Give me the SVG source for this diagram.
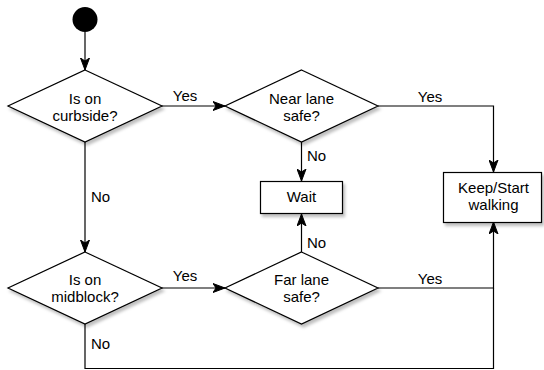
<svg xmlns="http://www.w3.org/2000/svg" width="544" height="370" viewBox="0 0 544 370">
<defs>
<filter id="sh" x="-10%" y="-10%" width="130%" height="140%">
<feDropShadow dx="2" dy="3" stdDeviation="1.5" flood-color="#000" flood-opacity="0.25"/>
</filter>
<marker id="ah" markerUnits="userSpaceOnUse" viewBox="0 0 12 10" refX="12" refY="5" markerWidth="12" markerHeight="10" orient="auto">
<path d="M0,0.5 L12,5 L0,9.5 L3,5 Z" fill="#000" stroke="#000" stroke-width="1"/>
</marker>
<style>
.shape{fill:#fff;stroke:#000;stroke-width:1.2;filter:url(#sh)}
.edge{fill:none;stroke:#000;stroke-width:1.2}
.arr{marker-end:url(#ah)}
text{font-family:"Liberation Sans",Arial,Helvetica,sans-serif;font-size:15px;fill:#000}
.c{text-anchor:middle}
</style>
</defs>
<rect width="544" height="370" fill="#fff"/>
<g id="connectors">
<path class="edge arr" d="M85,32 L85,70"/>
<path class="edge arr" d="M162,106 L225,106"/>
<path class="edge arr" d="M378,106 L493.5,106 L493.5,172"/>
<path class="edge arr" d="M301.5,142 L301.5,181"/>
<path class="edge arr" d="M85,142 L85,252"/>
<path class="edge arr" d="M162,288 L225,288"/>
<path class="edge arr" d="M301.5,252 L301.5,214"/>
<path class="edge arr" d="M378,288 L493.5,288 L493.5,222"/>
<path class="edge" d="M85,324 L85,368.5 L493.5,368.5 L493.5,288"/>
<text class="c" x="185" y="101">Yes</text>
<text class="c" x="430" y="102">Yes</text>
<text x="307" y="161">No</text>
<text x="307" y="248">No</text>
<text x="91" y="202">No</text>
<text class="c" x="185" y="281">Yes</text>
<text class="c" x="430" y="284">Yes</text>
<text x="91" y="349">No</text>
</g>
<g id="start">
<circle cx="85" cy="19.5" r="12.5" fill="#000"/>
</g>
<g id="curbside">
<path class="shape" d="M85,70 L162,106 L85,142 L8,106 Z"/>
<text class="c" x="85" y="104">Is on</text>
<text class="c" x="85" y="121">curbside?</text>
</g>
<g id="nearlane">
<path class="shape" d="M301.5,70 L378,106 L301.5,142 L225,106 Z"/>
<text class="c" x="301.5" y="104">Near lane</text>
<text class="c" x="301.5" y="121">safe?</text>
</g>
<g id="wait">
<rect class="shape" x="260.5" y="181.5" width="82" height="32"/>
<text class="c" x="301.5" y="202">Wait</text>
</g>
<g id="keep">
<rect class="shape" x="443.5" y="172.5" width="98" height="50"/>
<text class="c" x="493.5" y="193">Keep/Start</text>
<text class="c" x="493.5" y="210">walking</text>
</g>
<g id="midblock">
<path class="shape" d="M85,252 L162,288 L85,324 L8,288 Z"/>
<text class="c" x="85" y="285">Is on</text>
<text class="c" x="85" y="302">midblock?</text>
</g>
<g id="farlane">
<path class="shape" d="M301.5,252 L378,288 L301.5,324 L225,288 Z"/>
<text class="c" x="301.5" y="285">Far lane</text>
<text class="c" x="301.5" y="302">safe?</text>
</g>
</svg>
